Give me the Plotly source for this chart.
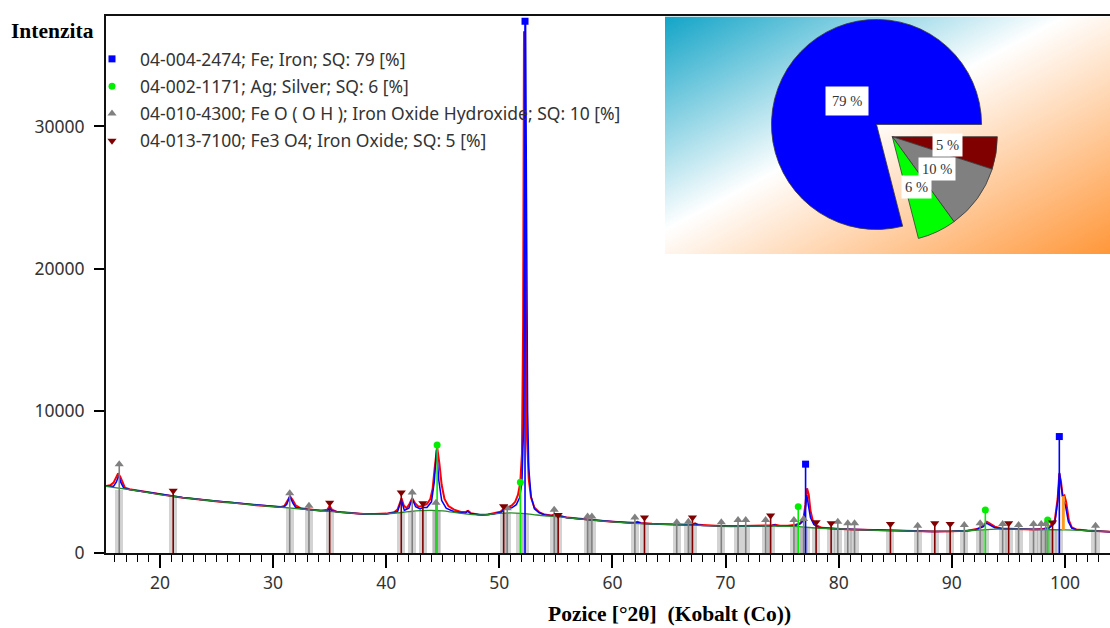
import base64
import math
import plotly.graph_objects as go

# ---------------- data ----------------
obs_x = [15.23, 15.6, 15.9, 16.1, 16.3, 16.5, 16.7, 16.9, 17.3, 18, 18.6, 19.2, 20, 20.6, 21.2, 22, 22.7,
         23.4, 24, 24.8, 25.5, 26.2, 27, 27.8, 28.5, 29.2, 30, 30.7, 31.0, 31.25, 31.5, 31.75, 32.0, 32.4,
         33.0, 33.6, 34.2, 34.8, 35.0, 35.2, 35.6, 36.4, 37.2, 38, 39, 40, 40.7, 41.0, 41.2, 41.35, 41.55,
         41.8, 42.05, 42.3, 42.55, 42.85, 43.2, 43.6, 43.9, 44.1, 44.3, 44.5, 44.7, 44.9, 45.15, 45.5, 46.0,
         46.6, 47.05, 47.25, 47.5, 48.2, 49.0, 49.6, 50.1, 50.45, 50.75, 51.1, 51.4, 51.65, 51.85, 52.0,
         52.1, 52.18, 52.26, 52.35, 52.45, 52.6, 52.8, 53.1, 53.5, 54.0, 54.6, 54.95, 55.3, 56, 57, 58, 59,
         60, 61, 61.9, 62.2, 62.5, 63.5, 64.5, 65.5, 66.5, 67.05, 67.3, 67.6, 68.5, 69.5, 70.5, 71.5, 72.5,
         73.5, 74.1, 74.4, 74.8, 75.5, 76.2, 76.6, 76.9, 77.05, 77.2, 77.35, 77.5, 77.7, 78.0, 78.5, 79.3,
         80.2, 81.2, 82.5, 84, 85.5, 87, 88.5, 90, 91.4, 92.3, 92.8, 93.1, 93.4, 93.8, 94.4, 95.2, 96.2,
         97.2, 98.0, 98.6, 99.1, 99.35, 99.5, 99.65, 99.8, 99.95, 100.1, 100.35, 100.6, 101, 102, 103, 103.98]
obs_y = [4720, 4760, 4950, 5300, 5600, 5350, 4900, 4600, 4480, 4390, 4290, 4230, 4120, 4050, 3990, 3890, 3830,
         3760, 3730, 3650, 3590, 3560, 3470, 3420, 3360, 3310, 3270, 3230, 3300, 3600, 3980, 3700, 3350, 3150,
         3080, 3010, 2980, 3050, 3300, 3050, 2900, 2840, 2790, 2740, 2740, 2770, 2860, 3050, 3500, 3850, 3350,
         3150, 3450, 3850, 3500, 3250, 3300, 3450, 3800, 4500, 6100, 7450, 6300, 4800, 3800, 3300, 3050,
         2880, 2900, 2960, 2800, 2690, 2710, 2790, 2900, 3150, 3200, 3350, 3600, 4100, 4950, 7000,
         16000, 36700, 32000, 17000, 8000, 5200, 3900, 3200, 2880, 2700, 2640, 2720, 2620, 2490, 2400, 2330, 2260,
         2200, 2140, 2120, 2200, 2110, 2060, 2030, 2000, 1990, 2010, 2080, 1980, 1930, 1900, 1880, 1900, 1890,
         1900, 1950, 1990, 1920, 1910, 1990, 2100, 2500, 3400, 4550, 4100, 3000, 2300, 1960, 1770, 1710,
         1680, 1650, 1620, 1580, 1560, 1550, 1520, 1530, 1570, 1700, 1950, 2200, 2050, 1850, 1720, 1690, 1670,
         1660, 1680, 1800, 2300, 3800, 5600, 5000, 3950, 4050, 3600, 2300, 1800, 1660, 1580, 1530, 1500]

calc_x = [15.23, 15.9, 16.15, 16.35, 16.55, 16.8, 17.3, 18, 20, 22, 24, 26, 28, 30, 30.9, 31.2, 31.47, 31.75,
          32.0, 33, 34.8, 35.0, 35.2, 36, 38, 40, 41.0, 41.33, 41.6, 42.0, 42.3, 42.6, 43.0, 43.24, 43.6, 44.0,
          44.25, 44.45, 44.65, 44.9, 45.3, 46, 47.0, 47.2, 47.45, 48.5, 49.5, 50.2, 50.4, 50.7, 51.1, 51.5,
          51.8, 52.0, 52.15, 52.24, 52.32, 52.4, 52.5, 52.6, 52.8, 53.1, 53.5, 54, 54.7, 54.9, 55.2, 56, 58,
          60, 61.9, 62.2, 62.5, 64, 66, 67.1, 67.3, 67.6, 68, 70, 72, 74, 74.3, 74.6, 76, 76.6, 76.9, 77.05,
          77.18, 77.33, 77.5, 77.8, 78.2, 80, 82, 84, 86, 88, 90, 92, 92.8, 93.05, 93.35, 93.8, 94.5, 96, 98,
          98.6, 99.1, 99.35, 99.52, 99.7, 99.85, 100.05, 100.3, 100.6, 101, 102, 103.98]
calc_y = [4690, 4700, 5000, 5450, 4950, 4560, 4460, 4370, 4110, 3900, 3720, 3560, 3400, 3260, 3220, 3400, 4000, 3500,
          3200, 3060, 2950, 3150, 2950, 2860, 2750, 2750, 2900, 3750, 3000, 3150, 3800, 3250, 3100, 3200, 3200, 3600,
          5000, 7250, 5100, 3700, 3150, 2900, 2790, 2950, 2780, 2680, 2750, 2880, 3100, 3150, 3180, 3400,
          3900, 5000, 9000, 25000, 37500, 25000, 10000, 6000, 4000, 3100, 2850, 2680, 2620, 2690, 2620, 2480, 2330,
          2190, 2100, 2160, 2090, 2030, 1980, 1990, 2060, 1970, 1930, 1890, 1890, 1900, 1960, 1900, 1900, 2050, 2300, 3100,
          4080, 3300, 2500, 2000, 1800, 1690, 1630, 1580, 1560, 1520, 1530, 1600, 1850, 2100, 1950, 1780, 1700, 1670, 1650,
          1750, 2100, 3600, 5640, 4500, 3700, 3300, 2200, 1750, 1640, 1570, 1500]

bg_x = [15.23, 16, 17, 18, 19, 20, 21, 22, 23, 24, 25, 26, 27, 28, 29, 30, 31, 32, 33, 34, 35, 36, 37, 38, 39,
        40, 41, 42, 43, 44, 45, 46, 47, 48, 49, 50, 51, 52, 53, 54, 55, 56, 57, 58, 59, 60, 62, 64, 66, 68, 70,
        72, 74, 76, 78, 80, 82, 84, 86, 88, 90, 92, 94, 96, 98, 100, 102, 103.98]
bg_y = [4680, 4600, 4490, 4370, 4240, 4110, 4000, 3900, 3800, 3720, 3640, 3560, 3480, 3400, 3330, 3260, 3200, 3130,
        3060, 2990, 2930, 2860, 2800, 2750, 2730, 2750, 2820, 2910, 2980, 3000, 2960, 2850, 2750, 2680, 2700, 2790,
        2820, 2780, 2700, 2620, 2560, 2480, 2400, 2330, 2260, 2190, 2090, 2030, 1980, 1930, 1890, 1890, 1900, 1870,
        1760, 1690, 1630, 1580, 1560, 1520, 1530, 1600, 1680, 1670, 1650, 1620, 1570, 1500]

# reference patterns (stick positions [deg 2theta] and stick heights [counts])
fe_pos = [52.27, 77.07, 99.5]
fe_h = [37400, 6250, 8190]
ag_pos = [44.5, 51.86, 76.42, 92.96, 98.47]
ag_h = [7600, 4980, 3260, 3030, 2320]
feooh_pos = [16.4, 31.47, 33.17, 42.3, 44.4, 50.7, 54.85, 57.8, 58.18, 61.98, 65.68, 66.71, 69.62, 71.1,
             71.78, 73.54, 76.04, 76.9, 79.92, 80.8, 81.4, 86.98, 91.1, 92.5, 94.49, 95.9, 97.22, 97.9, 98.3, 102.7]
feooh_h = [6250, 4200, 3330, 4250, 3540, 3150, 3050, 2560, 2560, 2490, 2160, 2200, 2160, 2320,
           2320, 2320, 2320, 2400, 2200, 2090, 2090, 1920, 1970, 2090, 2040, 1970, 2040, 2040, 2040, 1920]
fe3o4_pos = [21.17, 35.0, 41.33, 43.24, 50.38, 55.2, 62.83, 67.07, 73.98, 78.0, 79.33, 84.57, 88.49, 89.85,
             95.02, 98.9]
fe3o4_h = [4370, 3540, 4250, 3500, 3280, 2680, 2490, 2490, 2630, 2160, 2090, 2040, 2090, 2040, 2090, 2140]

# peak-list bars (position, height)
bar_pos = [16.4, 21.17, 31.47, 33.17, 35.0, 41.33, 42.3, 43.24, 44.4, 44.5, 50.38, 50.7, 51.86, 52.27, 54.85,
           55.2, 57.8, 58.18, 61.98, 62.83, 65.68, 66.71, 67.07, 69.62, 71.1, 71.78, 73.54, 73.98, 76.04, 76.42,
           76.9, 77.07, 78.0, 79.33, 79.92, 80.8, 81.4, 84.57, 86.98, 88.49, 89.85, 91.1, 92.5, 92.96, 94.49,
           95.02, 95.9, 97.22, 97.9, 98.3, 98.47, 98.9, 99.5, 102.7]
bar_h = [4450, 3950, 3200, 3050, 2930, 2830, 2900, 2980, 3000, 3000, 2800, 2810, 2800, 2780, 2570,
         2550, 2350, 2320, 2090, 2070, 1990, 1970, 1960, 1890, 1890, 1890, 1890, 1900, 1880, 1870,
         1850, 1840, 1760, 1710, 1690, 1670, 1650, 1580, 1550, 1520, 1530, 1560, 1620, 1640, 1680,
         1690, 1680, 1670, 1660, 1650, 1650, 1640, 1620, 1560]

# orange component (K-alpha2 part of the Fe (220) line)
orange_x = [99.85, 99.85]
orange_y = [1620, 4000]

legend_names = ["04-004-2474; Fe; Iron; SQ: 79 [%]",
                "04-002-1171; Ag; Silver; SQ: 6 [%]",
                "04-010-4300; Fe O ( O H ); Iron Oxide Hydroxide; SQ: 10 [%]",
                "04-013-7100; Fe3 O4; Iron Oxide; SQ: 5 [%]"]

pie_labels = ["Fe3 O4", "Fe O ( O H )", "Ag", "Fe"]
pie_values = [5, 10, 6, 79]
pie_text = ["5 %", "10 %", "6 %", "79 %"]

x_ticks = [20, 30, 40, 50, 60, 70, 80, 90, 100]
y_ticks = [0, 10000, 20000, 30000]
y_tick_text = ["0", "10000", "20000", "30000"]

# ---------------- layout geometry ----------------
W, H = 1110, 628
ML, MR, MT, MB = 106, 0, 0, 75
PW = W - ML - MR           # 1004
PH = H - MT - MB           # 553 (paper height)
Y_TOP = 537.3 / PH         # main y-axis domain top (axis top at 16 px)

C_FE = "#0000ff"
C_AG = "#00ee00"
C_FEOOH = "#808080"
C_FE3O4 = "#800000"


def sticks(pos, h):
    xs, ys = [], []
    for p, v in zip(pos, h):
        xs += [p, p, None]
        ys += [0, v, None]
    return xs, ys


fig = go.Figure()

# peak-list bars
fig.add_trace(go.Bar(x=bar_pos, y=bar_h, width=0.72, marker=dict(color="rgba(150,150,150,0.42)", line=dict(width=0)),
                     showlegend=False, hoverinfo="skip"))

# profiles
fig.add_trace(go.Scatter(x=obs_x, y=obs_y, mode="lines", line=dict(color="#ff0000", width=2),
                         showlegend=False, hoverinfo="skip"))
fig.add_trace(go.Scatter(x=calc_x, y=calc_y, mode="lines", line=dict(color="#0000ff", width=1.5),
                         showlegend=False, hoverinfo="skip"))
fig.add_trace(go.Scatter(x=bg_x, y=bg_y, mode="lines", line=dict(color="#2a8a2a", width=1.3, shape="spline"),
                         showlegend=False, hoverinfo="skip"))
fig.add_trace(go.Scatter(x=orange_x, y=orange_y, mode="lines", line=dict(color="#ff9a1a", width=3),
                         showlegend=False, hoverinfo="skip"))

phases = [
    (fe_pos, fe_h, C_FE, "square", 7, legend_names[0], "fe"),
    (ag_pos, ag_h, C_AG, "circle", 7, legend_names[1], "ag"),
    (feooh_pos, feooh_h, C_FEOOH, "triangle-up", 8, legend_names[2], "feooh"),
    (fe3o4_pos, fe3o4_h, C_FE3O4, "triangle-down", 8, legend_names[3], "fe3o4"),
]
for pos, h, col, sym, size, name, grp in [phases[2], phases[3], phases[1], phases[0]]:
    sx, sy = sticks(pos, h)
    fig.add_trace(go.Scatter(x=sx, y=sy, mode="lines", line=dict(color=col, width=1.6),
                             showlegend=False, hoverinfo="skip", legendgroup=grp))
for pos, h, col, sym, size, name, grp in phases:
    fig.add_trace(go.Scatter(x=pos, y=h, mode="markers", name=name, legendgroup=grp,
                             marker=dict(color=col, symbol=sym, size=size, line=dict(width=0)),
                             cliponaxis=False, hoverinfo="skip"))

# ---------------- pie inset ----------------
PIE_CX, PIE_CY = 892.3, 136.7      # px
PIE_HALF = 125.0                   # px
pull_blue = 0.19
fig.add_trace(go.Pie(labels=pie_labels, values=pie_values, sort=False, direction="clockwise", rotation=90,
                     marker=dict(colors=[C_FE3O4, C_FEOOH, "#00ff00", C_FE], line=dict(color="#3a3a3a", width=0.8)),
                     pull=[0, 0, 0, pull_blue], textinfo="none", hoverinfo="skip", showlegend=False,
                     domain=dict(x=[(PIE_CX - PIE_HALF - ML) / PW, (PIE_CX + PIE_HALF - ML) / PW],
                                 y=[(PH - PIE_CY - PIE_HALF) / PH, (PH - PIE_CY + PIE_HALF) / PH])))

# pie labels (placed at each slice's mid-angle)
r_pie = PIE_HALF / (1 + pull_blue)
total = sum(pie_values)
annotations = []
ang0 = 0.0
for i, (v, t) in enumerate(zip(pie_values, pie_text)):
    span = v / total * 360
    mid = math.radians(ang0 + span / 2)
    ang0 += span
    cx, cy = PIE_CX, PIE_CY
    frac = 0.53
    if i == 3:
        cx += pull_blue * r_pie * math.cos(mid)
        cy += pull_blue * r_pie * math.sin(mid)
        frac = 0.36
    px = cx + frac * r_pie * math.cos(mid)
    py = cy + frac * r_pie * math.sin(mid)
    pad = 6 if i == 3 else 3
    annotations.append(dict(x=(px - ML) / PW, y=(PH - py) / PH, xref="paper", yref="paper", text=t,
                            xanchor="center", yanchor="middle",
                            showarrow=False, bgcolor="white", borderpad=pad,
                            font=dict(family="Liberation Serif", size=14.5, color="#333333")))

annotations.append(dict(x=(52 - ML) / PW, y=(PH - 31) / PH, xref="paper", yref="paper", text="<b>Intenzita</b>",
                        xanchor="center", yanchor="middle",
                        showarrow=False, font=dict(family="Liberation Serif", size=21.5, color="#000000")))
annotations.append(dict(x=(669 - ML) / PW, y=(PH - 614) / PH, xref="paper", yref="paper",
                        xanchor="center", yanchor="middle",
                        text="<b>Pozice [°2θ]\u00a0\u00a0(Kobalt (Co))</b>", showarrow=False,
                        font=dict(family="Liberation Serif", size=21.5, color="#000000")))

# gradient background of the inset
svg = ('<svg xmlns="http://www.w3.org/2000/svg" width="445" height="238" viewBox="0 0 445 238" '
       'preserveAspectRatio="none"><defs><linearGradient id="g" x1="0" y1="0" x2="1" y2="1">'
       '<stop offset="0" stop-color="#12a4c7"/><stop offset="0.45" stop-color="#ffffff"/>'
       '<stop offset="1" stop-color="#ff973a"/></linearGradient></defs>'
       '<rect width="445" height="238" fill="url(#g)"/></svg>')
img_src = "data:image/svg+xml;base64," + base64.b64encode(svg.encode()).decode()
INSET_L, INSET_T, INSET_B = 665, 16.5, 254
images = [dict(source=img_src, xref="paper", yref="paper", x=(INSET_L - ML) / PW, y=(PH - INSET_T) / PH,
               sizex=(W - INSET_L) / PW, sizey=(INSET_B - INSET_T) / PH, sizing="stretch",
               xanchor="left", yanchor="top", layer="below")]

tick_font = dict(family="Noto Sans", size=17.5, color="#333333")
fig.update_layout(
    width=W, height=H, margin=dict(l=ML, r=MR, t=MT, b=MB, pad=0),
    paper_bgcolor="white", plot_bgcolor="rgba(0,0,0,0)",
    barmode="overlay", bargap=0,
    annotations=annotations, images=images,
    showlegend=True,
    legend=dict(x=(84 - ML) / PW, y=(PH - 41) / PH, xanchor="left", yanchor="top", bgcolor="rgba(0,0,0,0)",
                font=dict(family="Noto Sans", size=17.5, color="#333333"), traceorder="grouped",
                tracegroupgap=1.5, itemwidth=46, itemclick=False, itemdoubleclick=False),
    xaxis=dict(range=[15.23, 103.98], tickvals=x_ticks, ticks="outside", ticklen=13, tickwidth=1.5,
               tickcolor="#000", showline=True, linewidth=2, linecolor="#111", mirror=True,
               showgrid=False, zeroline=False, tickfont=tick_font,
               minor=dict(dtick=1, tick0=0, ticks="outside", ticklen=7, tickwidth=1.2, tickcolor="#000",
                          showgrid=False)),
    yaxis=dict(range=[0, 37790], domain=[0, Y_TOP], tickvals=y_ticks, ticktext=y_tick_text, ticks="outside",
               ticklen=10, tickwidth=1.5, tickcolor="#000", showline=True, linewidth=2, linecolor="#111",
               showgrid=False, zeroline=False, tickfont=tick_font, ticklabelstandoff=6),
)

fig.write_html("out.html")
